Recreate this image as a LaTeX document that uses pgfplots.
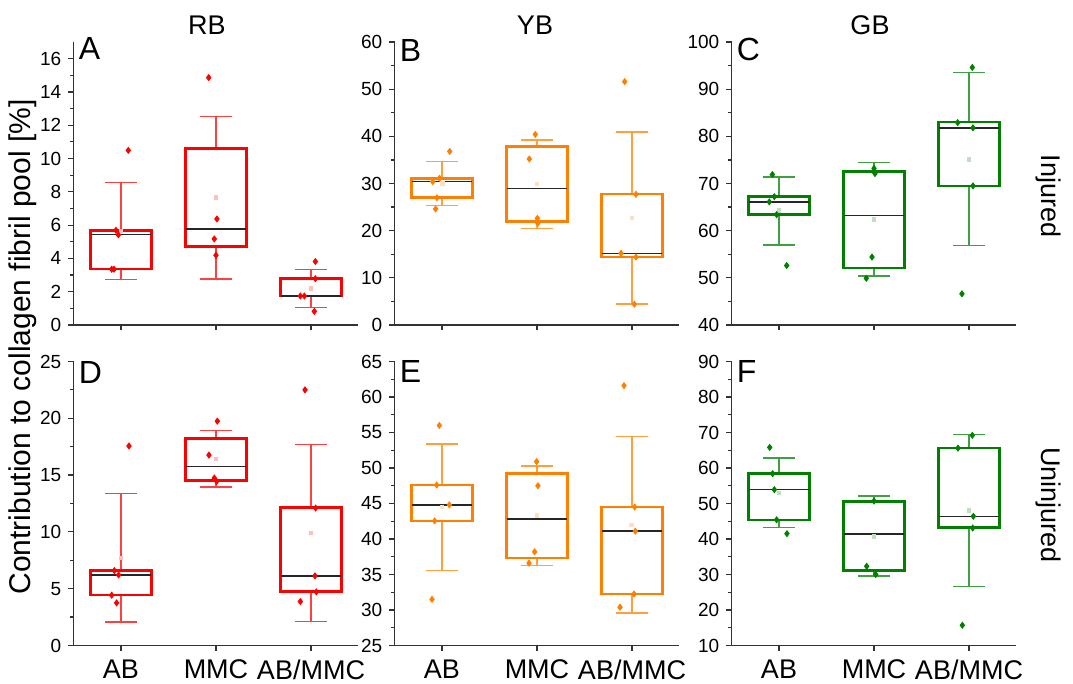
\documentclass[border=0pt]{standalone}
\usepackage{fontspec}
\setmainfont{Liberation Sans}
\usepackage{pgfplots}
\pgfplotsset{compat=1.18}
\usepgfplotslibrary{statistics}

\definecolor{rbred}{HTML}{FF0000}
\definecolor{yborange}{HTML}{FF7F00}
\definecolor{gbgreen}{HTML}{007F00}

\tikzset{letter/.style={anchor=north west, inner sep=0pt, font=\fontsize{16}{18}\selectfont}}
\pgfplotsset{
  panel/.style={
    scale only axis, width=142.5pt, anchor=south west,
    axis lines*=left, tick align=outside,
    xmin=0.5, xmax=3.5, xtick={1,2,3}, xticklabels={},
    minor y tick num=1,
    major tick length=2.6pt, minor tick length=1.6pt,
    axis line style={black!80, line width=0.6pt},
    tick style={black!80, line width=0.6pt},
    yticklabel style={font=\fontsize{9.5}{11}\selectfont},
    /pgf/number format/assume math mode=true,
    boxplot/draw direction=y,
    clip=false,
  },
  toprow/.style={panel, height=141.5pt},
  bottomrow/.style={panel, height=142pt,
    xticklabels={AB,MMC,AB/MMC},
    xticklabel style={font=\fontsize{13.5}{15}\selectfont, yshift=-1pt}},
  boxcol/.style={draw=#1, solid, mark=none,
    boxplot/every box/.style={draw=#1, line width=1.3pt},
    boxplot/every whisker/.style={draw=#1!75, line width=0.7pt},
    boxplot/every median/.style={draw=black!85, line width=0.7pt}},
  pts/.style={only marks, mark=diamond*, mark size=1.5pt, color=#1},
  avg/.style={only marks, mark=square*, mark size=0.9pt, color=#1!25},
}
\newcommand{\bx}[7]{%
  \addplot[boxcol=#1, boxplot prepared={draw position=#2,
    lower whisker=#3, lower quartile=#4, median=#5,
    upper quartile=#6, upper whisker=#7,
    box extend=0.64, whisker extend=0.34}] coordinates {};}

\begin{document}
\begin{tikzpicture}
\useasboundingbox (0,0) rectangle (536.5pt,342pt);

% ---------- A: RB injured
\begin{axis}[toprow, at={(36.75pt,179.5pt)}, ymin=0, ymax=17, ytick={0,2,...,16}]
  \bx{rbred}{1}{2.74}{3.37}{5.43}{5.69}{8.57}
  \bx{rbred}{2}{2.76}{4.71}{5.77}{10.6}{12.52}
  \bx{rbred}{3}{1.04}{1.74}{1.74}{2.78}{3.32}
  \addplot[avg=rbred] coordinates {(1,5.66)(2,7.65)(3,2.2)};
  \addplot[pts=rbred] coordinates {
    (1.077,10.49)(0.947,5.69)(0.972,5.42)(0.902,3.35)(0.926,3.35)
    (1.923,14.86)(2.01,6.37)(1.982,5.17)(2.0,4.19)
    (3.046,3.81)(3.046,2.78)(2.888,1.74)(2.93,1.74)(3.035,0.82)};
  \node[letter] at (rel axis cs:0,1) [xshift=2.5pt, yshift=2.5pt] {A};
\end{axis}

% ---------- B: YB injured
\begin{axis}[toprow, at={(197.25pt,179.5pt)}, ymin=0, ymax=60, ytick={0,10,...,60}]
  \bx{yborange}{1}{25.3}{27.0}{30.4}{31.1}{34.65}
  \bx{yborange}{2}{20.5}{21.9}{28.9}{37.8}{39.2}
  \bx{yborange}{3}{4.45}{14.4}{15.2}{27.8}{40.9}
  \addplot[avg=yborange] coordinates {(1.007,30.0)(2,29.9)(3,22.7)};
  \addplot[pts=yborange] coordinates {
    (1.081,36.8)(0.975,31.1)(0.902,30.4)(0.947,27.0)(0.933,24.6)
    (1.982,40.4)(1.919,35.2)(2.004,22.6)(2.01,21.9)(2.01,21.6)
    (2.923,51.6)(3.042,27.7)(2.884,15.2)(3.042,14.4)(3.025,4.4)};
  \node[letter] at (rel axis cs:0,1) [xshift=2.5pt, yshift=1.5pt] {B};
\end{axis}

% ---------- C: GB injured
\begin{axis}[toprow, at={(365.75pt,179.5pt)}, ymin=40, ymax=100, ytick={40,50,...,100}]
  \bx{gbgreen}{1}{57.0}{63.4}{66.1}{67.2}{71.4}
  \bx{gbgreen}{2}{50.4}{52.1}{63.2}{72.6}{74.4}
  \bx{gbgreen}{3}{56.9}{69.5}{81.8}{83.0}{93.5}
  \addplot[avg=gbgreen] coordinates {(1,64.3)(2,62.4)(3,75.1)};
  \addplot[pts=gbgreen] coordinates {
    (0.93,71.9)(0.951,67.2)(0.898,66.1)(0.975,63.4)(1.081,52.6)
    (2.0,73.2)(2.01,72.1)(1.979,54.4)(1.919,49.9)
    (3.035,94.6)(2.881,82.9)(3.042,81.8)(3.042,69.5)(2.926,46.6)};
  \node[letter] at (rel axis cs:0,1) [xshift=2.5pt, yshift=2pt] {C};
\end{axis}

% ---------- D: RB uninjured
\begin{axis}[bottomrow, at={(36.75pt,19.25pt)}, ymin=0, ymax=25, ytick={0,5,...,25}]
  \bx{rbred}{1}{2.08}{4.43}{6.21}{6.59}{13.36}
  \bx{rbred}{2}{13.95}{14.54}{15.74}{18.23}{18.9}
  \bx{rbred}{3}{2.11}{4.75}{6.13}{12.13}{17.67}
  \addplot[avg=rbred] coordinates {(1,7.7)(2,16.44)(3,9.9)};
  \addplot[pts=rbred] coordinates {
    (1.084,17.56)(0.93,6.59)(0.975,6.21)(0.902,4.43)(0.954,3.75)
    (2.014,19.75)(1.926,16.76)(1.982,14.74)(2.007,14.45)
    (2.937,22.5)(3.049,12.1)(3.042,6.13)(3.056,4.72)(2.888,3.87)};
  \node[letter] at (rel axis cs:0,1) [xshift=2.5pt, yshift=0pt] {D};
\end{axis}

% ---------- E: YB uninjured
\begin{axis}[bottomrow, at={(197.25pt,19.25pt)}, ymin=25, ymax=65, ytick={25,30,...,65}]
  \bx{yborange}{1}{35.6}{42.55}{44.8}{47.6}{53.4}
  \bx{yborange}{2}{36.3}{37.3}{42.8}{49.2}{50.3}
  \bx{yborange}{3}{29.6}{32.25}{41.1}{44.5}{54.4}
  \addplot[avg=yborange] coordinates {(1,44.5)(2,43.3)(2.993,42.0)};
  \addplot[pts=yborange] coordinates {
    (0.972,56.0)(0.944,47.6)(1.077,44.8)(0.923,42.55)(0.895,31.5)
    (1.996,50.9)(2.01,47.5)(1.975,38.2)(1.916,36.6)
    (2.916,61.6)(3.028,44.5)(3.035,41.1)(3.021,32.25)(2.874,30.4)};
  \node[letter] at (rel axis cs:0,1) [xshift=2.5pt, yshift=0.5pt] {E};
\end{axis}

% ---------- F: GB uninjured
\begin{axis}[bottomrow, at={(365.75pt,19.25pt)}, ymin=10, ymax=90, ytick={10,20,...,90}]
  \bx{gbgreen}{1}{43.2}{45.4}{53.9}{58.4}{62.8}
  \bx{gbgreen}{2}{29.6}{31.1}{41.4}{50.5}{52.1}
  \bx{gbgreen}{3}{26.7}{43.3}{46.4}{65.6}{69.4}
  \addplot[avg=gbgreen] coordinates {(1,53.0)(2,40.8)(3,48.0)};
  \addplot[pts=gbgreen] coordinates {
    (0.902,65.8)(0.933,58.4)(0.951,53.9)(0.975,45.4)(1.084,41.5)
    (2.0,50.7)(1.923,32.3)(2.018,30.0)
    (3.035,69.2)(2.884,65.6)(3.046,46.4)(3.039,43.1)(2.93,15.7)};
  \node[letter] at (rel axis cs:0,1) [xshift=2.5pt, yshift=0.5pt] {F};
\end{axis}

% column titles, row labels, shared y label
\node[font=\fontsize{13.5}{15}\selectfont] at (103.5pt,329.5pt) {RB};
\node[font=\fontsize{13.5}{15}\selectfont] at (267.5pt,329.5pt) {YB};
\node[font=\fontsize{13.5}{15}\selectfont] at (435pt,329.5pt) {GB};
\node[rotate=-90, font=\fontsize{13.5}{15}\selectfont] at (524pt,244pt) {Injured};
\node[rotate=-90, font=\fontsize{13.5}{15}\selectfont] at (524pt,89.5pt) {Uninjured};
\node[rotate=90, font=\fontsize{15}{17}\selectfont] at (11.5pt,168.5pt) {Contribution to collagen fibril pool [\%]};
\end{tikzpicture}
\end{document}
